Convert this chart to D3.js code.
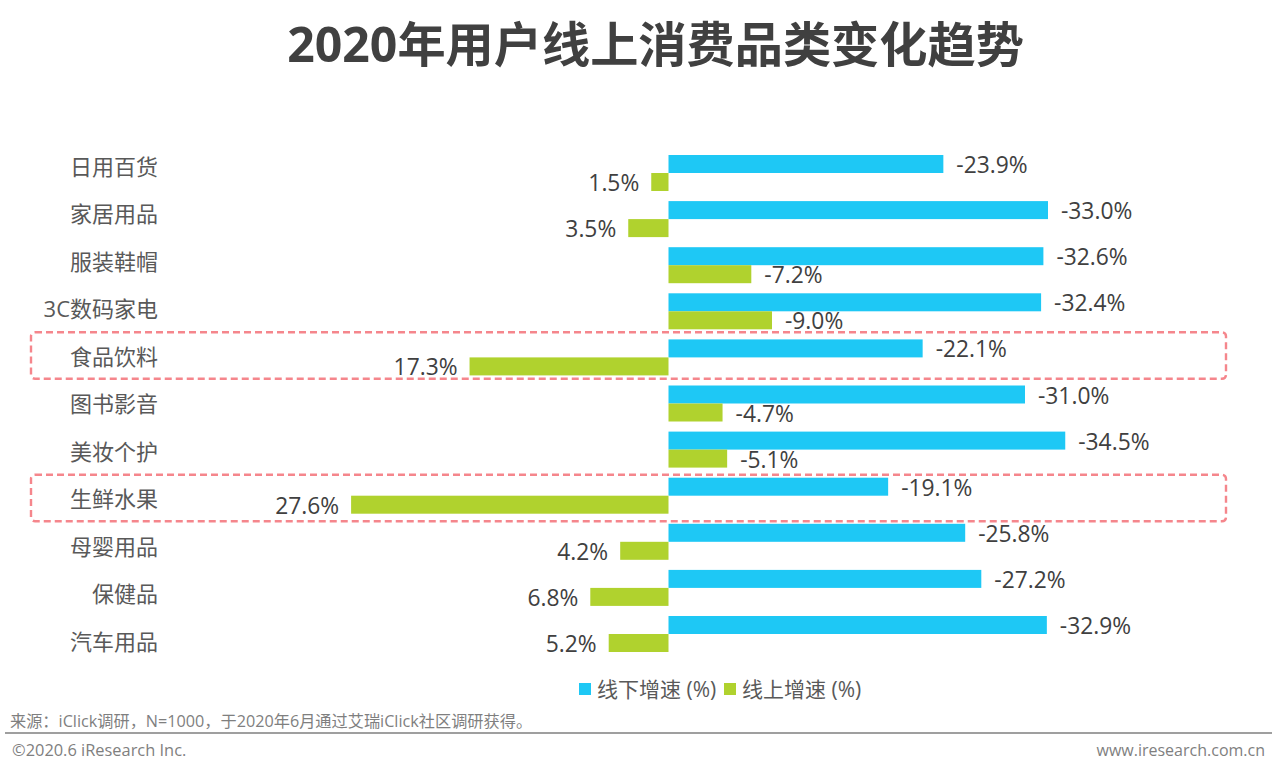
<!DOCTYPE html>
<html>
<head>
<meta charset="utf-8">
<script src="https://cdn.jsdelivr.net/npm/d3@7/dist/d3.min.js"></script>
<style>
html, body { margin: 0; padding: 0; background: #fff; }
svg { display: block; }
text { font-family: "Open Sans", "Noto Sans CJK SC", sans-serif; }
</style>
</head>
<body>
<div class="container"></div>
<script>
const categories = ['日用百货','家居用品','服装鞋帽','3C数码家电','食品饮料','图书影音','美妆个护','生鲜水果','母婴用品','保健品','汽车用品'];
const offline = [-23.9,-33.0,-32.6,-32.4,-22.1,-31.0,-34.5,-19.1,-25.8,-27.2,-32.9];
const online = [1.5,3.5,-7.2,-9.0,17.3,-4.7,-5.1,27.6,4.2,6.8,5.2];
const seriesNames = ['线下增速 (%)','线上增速 (%)'];
const highlighted = ['食品饮料','生鲜水果'];

const WIDTH = 1280;
const HEIGHT = 775;
const BLUE = '#1ec8f5';
const GREEN = '#b0d22e';

var svg = d3.select('.container').append('svg')
	.attr('width',WIDTH)
	.attr('height',HEIGHT);

// positive values run left, negative run right
var xScale = d3.scaleLinear()
	.domain([0,-35])
	.range([668.5,1071]);

var yScale = d3.scaleBand()
	.domain(categories)
	.range([150,657.1]);

// the category labels sit on a slightly wider pitch than the bars
var labelScale = d3.scaleBand()
	.domain(categories)
	.range([143.25,665.75]);

var inner = d3.scaleBand()
	.domain([0,1])
	.range([5,41]);

var fmt = function(v){ return v.toFixed(1)+'%'; };

svg.append('text')
	.attr('x',655.5).attr('y',62)
	.attr('text-anchor','middle')
	.attr('font-size',48.2)
	.attr('font-weight',700)
	.attr('fill','#404040')
	.text('2020年用户线上消费品类变化趋势');

// highlight boxes
svg.append('g').selectAll('rect')
	.data(highlighted)
	.join('rect')
	.attr('x',31)
	.attr('y',function(d){ return labelScale(d)-1; })
	.attr('width',1195)
	.attr('height',46.5)
	.attr('rx',4)
	.attr('fill','none')
	.attr('stroke','#f5868c')
	.attr('stroke-width',2.4)
	.attr('stroke-dasharray','7 4');

// category labels
svg.append('g').selectAll('text')
	.data(categories)
	.join('text')
	.attr('x',158)
	.attr('y',function(d){ return labelScale(d)+labelScale.bandwidth()/2+2; })
	.attr('text-anchor','end')
	.attr('dominant-baseline','middle')
	.attr('font-size',22)
	.attr('fill','#595959')
	.text(function(d){ return d; });

var drawSeries = function(values,index,color){
	var g = svg.append('g');
	var rows = values.map(function(v,i){ return {cat:categories[i],v:v}; });

	g.selectAll('rect')
		.data(rows)
		.join('rect')
		.attr('x',function(d){ return Math.min(xScale(0),xScale(d.v)); })
		.attr('y',function(d){ return yScale(d.cat)+inner(index); })
		.attr('width',function(d){ return Math.abs(xScale(d.v)-xScale(0)); })
		.attr('height',inner.bandwidth())
		.attr('fill',color);

	g.selectAll('text')
		.data(rows)
		.join('text')
		.attr('x',function(d){ return xScale(d.v)+(d.v<0?13:-12); })
		.attr('y',function(d){ return yScale(d.cat)+inner(index)+inner.bandwidth()/2+3; })
		.attr('text-anchor',function(d){ return d.v<0?'start':'end'; })
		.attr('dominant-baseline','middle')
		.attr('font-size',22.8)
		.attr('fill','#404040')
		.text(function(d){ return fmt(d.v); });
};

drawSeries(offline,0,BLUE);
drawSeries(online,1,GREEN);

// legend
var legendX = [579,724];
[BLUE,GREEN].forEach(function(c,i){
	svg.append('rect')
		.attr('x',legendX[i]).attr('y',683)
		.attr('width',12).attr('height',12)
		.attr('fill',c);
	svg.append('text')
		.attr('x',legendX[i]+18).attr('y',697)
		.attr('font-size',21)
		.attr('fill','#595959')
		.text(seriesNames[i]);
});

// footer
svg.append('text')
	.attr('x',10).attr('y',727)
	.attr('font-size',16.2)
	.attr('fill','#7f7f7f')
	.text('来源：iClick调研，N=1000，于2020年6月通过艾瑞iClick社区调研获得。');

svg.append('line')
	.attr('x1',5).attr('x2',1272)
	.attr('y1',733).attr('y2',733)
	.attr('stroke','#7f7f7f')
	.attr('stroke-width',1.6);

svg.append('text')
	.attr('x',12).attr('y',756)
	.attr('font-size',16.4)
	.attr('fill','#7f7f7f')
	.text('©2020.6 iResearch Inc.');

svg.append('text')
	.attr('x',1265).attr('y',756)
	.attr('text-anchor','end')
	.attr('font-size',16)
	.attr('fill','#7f7f7f')
	.text('www.iresearch.com.cn');
</script>
</body>
</html>
